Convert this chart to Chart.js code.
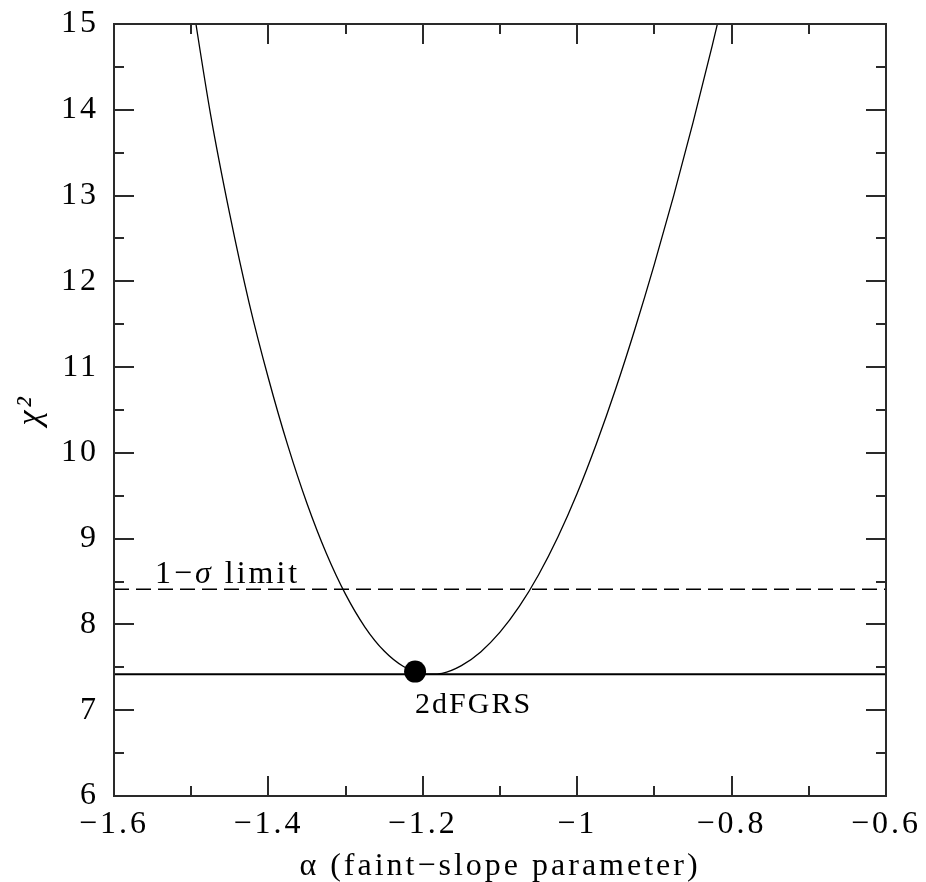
<!DOCTYPE html>
<html>
<head>
<meta charset="utf-8">
<script src="https://cdn.jsdelivr.net/npm/chart.js@4/dist/chart.umd.min.js"></script>
<style>
  html, body { margin: 0; padding: 0; background: #ffffff; }
  #wrap { width: 926px; height: 882px; }
</style>
</head>
<body>
<div id="wrap"><canvas id="c" width="926" height="882"></canvas></div>
<script>
// Chi-squared of the luminosity-function fit versus faint-end slope alpha
const alphaGrid = [-1.500, -1.475, -1.450, -1.425, -1.400, -1.375, -1.350, -1.325, -1.300, -1.275,
                   -1.250, -1.225, -1.200, -1.190, -1.175, -1.150, -1.125, -1.100, -1.075, -1.050,
                   -1.025, -1.000, -0.975, -0.950, -0.925, -0.900, -0.875, -0.850, -0.825, -0.800];
const chiSq     = [15.35, 13.95, 12.78, 11.75, 10.87, 10.09, 9.41, 8.83, 8.35, 7.97,
                   7.69, 7.51, 7.43, 7.42, 7.43, 7.52, 7.68, 7.91, 8.21, 8.58,
                   9.02, 9.53, 10.11, 10.75, 11.45, 12.20, 13.00, 13.85, 14.75, 15.70];

// Best-fit 2dFGRS point and reference levels
const bestAlpha = [-1.210];
const bestChi = [7.45];
const chiMinLevel = 7.42;
const oneSigmaLevel = 8.41;

// Axis ranges and tick spacing
const xLimits = [-1.6, -0.6];
const yLimits = [6, 15];
const xMajorStep = 0.2, xMinorStep = 0.1;
const yMajorStep = 1, yMinorStep = 0.5;

// Text
const xTitle = 'α (faint\u2212slope parameter)';
const yTitle = 'χ²';
const sigmaLabel = ['1\u2212', 'σ', ' limit'];
const pointLabel = '2dFGRS';

const FONT = "'Liberation Serif', 'DejaVu Serif', serif";
Chart.defaults.font.family = FONT;
Chart.defaults.color = '#000';

const fmt = v => {
  const r = Math.round(v * 10) / 10;
  return r < 0 ? '\u2212' + Math.abs(r) : String(r);
};

// wide letter spacing for all axis text
const spacing = {
  id: 'spacing',
  beforeLayout(chart) { chart.ctx.letterSpacing = '3px'; },
  beforeDraw(chart) { chart.ctx.letterSpacing = '3px'; }
};

const frameAndTicks = {
  id: 'frameAndTicks',
  afterDatasetsDraw(chart) {
    const { ctx, chartArea: a, scales: { x, y } } = chart;
    ctx.save();
    ctx.strokeStyle = '#2a2a2a';
    ctx.lineWidth = 2;
    ctx.beginPath();
    const nx = Math.round((xLimits[1] - xLimits[0]) / xMinorStep);
    for (let i = 1; i < nx; i++) {
      const v = xLimits[0] + i * xMinorStep;
      const px = Math.round(x.getPixelForValue(v));
      const len = (i % 2 === 0) ? 20 : 10;
      ctx.moveTo(px, a.bottom); ctx.lineTo(px, a.bottom - len);
      ctx.moveTo(px, a.top); ctx.lineTo(px, a.top + len);
    }
    const ny = Math.round((yLimits[1] - yLimits[0]) / yMinorStep);
    for (let i = 1; i < ny; i++) {
      const v = yLimits[0] + i * yMinorStep;
      const py = Math.round(y.getPixelForValue(v));
      const len = (i % 2 === 0) ? 20 : 10;
      ctx.moveTo(a.left, py); ctx.lineTo(a.left + len, py);
      ctx.moveTo(a.right, py); ctx.lineTo(a.right - len, py);
    }
    ctx.stroke();
    ctx.strokeRect(a.left, a.top, a.right - a.left, a.bottom - a.top);

    // 1-sigma label above the dashed level
    ctx.fillStyle = '#000';
    ctx.textBaseline = 'alphabetic';
    ctx.textAlign = 'left';
    ctx.letterSpacing = '3px';
    let tx = x.getPixelForValue(-1.547);
    const ty = y.getPixelForValue(oneSigmaLevel) - 6;
    const fonts = ["32px " + FONT, "italic 32px " + FONT, "32px " + FONT];
    sigmaLabel.forEach((s, i) => {
      ctx.font = fonts[i];
      ctx.fillText(s, tx, ty);
      tx += ctx.measureText(s).width;
    });

    // label under the best-fit point
    ctx.letterSpacing = '2px';
    ctx.font = "30px " + FONT;
    ctx.fillText(pointLabel, x.getPixelForValue(bestAlpha[0]), y.getPixelForValue(chiMinLevel) + 39);
    ctx.restore();
  }
};

new Chart(document.getElementById('c'), {
  type: 'scatter',
  data: {
    datasets: [
      {
        data: alphaGrid.map((a, i) => ({ x: a, y: chiSq[i] })),
        showLine: true, borderColor: '#000', borderWidth: 1.3,
        pointRadius: 0, cubicInterpolationMode: 'monotone', fill: false
      },
      {
        data: [{ x: xLimits[0], y: chiMinLevel }, { x: xLimits[1], y: chiMinLevel }],
        showLine: true, borderColor: '#000', borderWidth: 2, pointRadius: 0
      },
      {
        data: [{ x: xLimits[0], y: oneSigmaLevel }, { x: xLimits[1], y: oneSigmaLevel }],
        showLine: true, borderColor: '#000', borderWidth: 1.6, borderDash: [15, 7], pointRadius: 0
      },
      {
        data: bestAlpha.map((a, i) => ({ x: a, y: bestChi[i] })),
        pointRadius: 11, pointBackgroundColor: '#000', pointBorderColor: '#000', borderWidth: 0
      }
    ]
  },
  options: {
    responsive: false,
    animation: false,
    devicePixelRatio: 1,
    layout: { padding: { left: 0, top: 24, right: 40, bottom: 0 } },
    plugins: { legend: { display: false }, tooltip: { enabled: false } },
    scales: {
      x: {
        type: 'linear', min: xLimits[0], max: xLimits[1],
        grid: { display: false, drawTicks: false },
        border: { display: false },
        ticks: { stepSize: xMajorStep, padding: 9, font: { size: 32 }, color: '#000', callback: fmt, maxRotation: 0 },
        title: { display: true, text: xTitle, font: { size: 32, lineHeight: 0.95 }, color: '#000', padding: 0 },
        afterFit(s) { s.height = 86; s.paddingLeft = 0; s.paddingRight = 0; }
      },
      y: {
        type: 'linear', min: yLimits[0], max: yLimits[1],
        grid: { display: false, drawTicks: false },
        border: { display: false },
        ticks: { stepSize: yMajorStep, padding: 15, font: { size: 32 }, color: '#000', callback: fmt },
        title: { display: true, text: yTitle, font: { size: 34, style: 'italic', lineHeight: 1 }, color: '#000', padding: 14 },
        afterFit(s) { s.width = 114; s.paddingTop = 0; s.paddingBottom = 0; }
      }
    }
  },
  plugins: [spacing, frameAndTicks]
});
</script>
</body>
</html>
